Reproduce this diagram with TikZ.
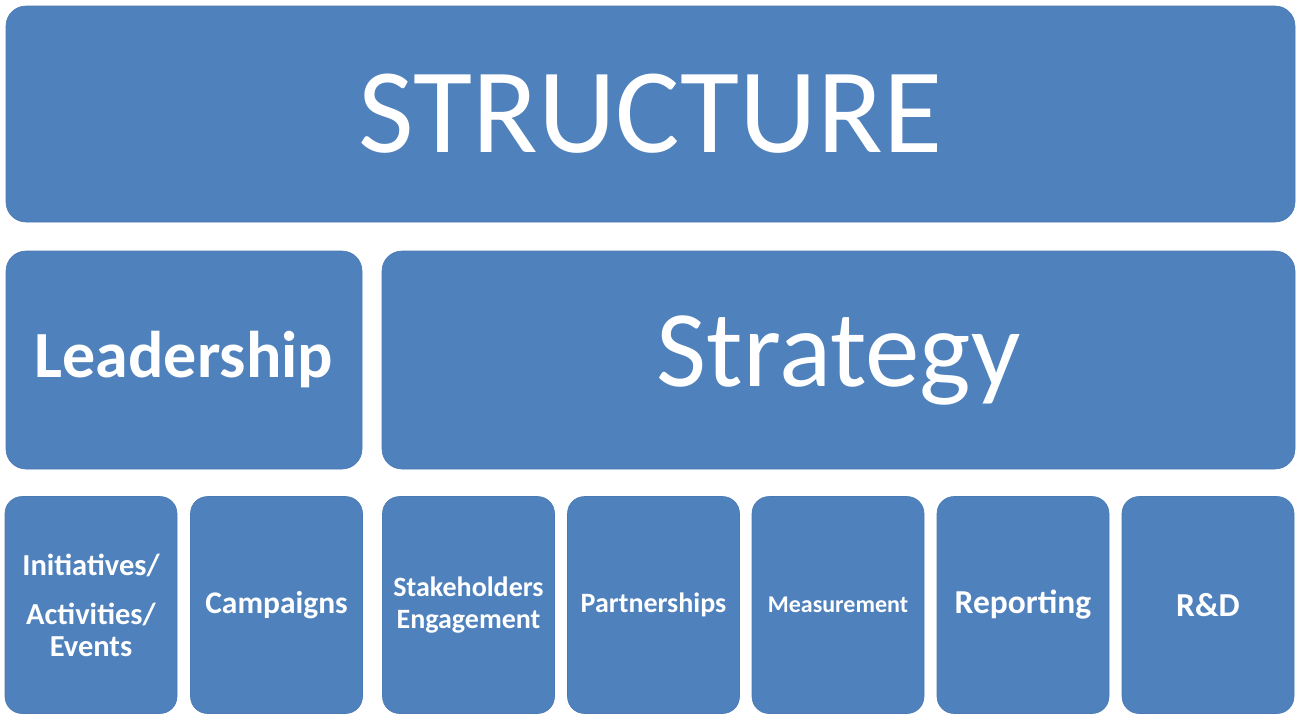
\documentclass[tikz,border=0pt]{standalone}
\usepackage{fontspec}
\setmainfont{Carlito}
\definecolor{boxblue}{HTML}{4F81BD}
\definecolor{boxedge}{HTML}{4A7AB3}
\begin{document}
\begin{tikzpicture}[x=1pt,y=-1pt,
  blk/.style={draw=boxedge, line width=0.6pt, fill=boxblue, rounded corners=20pt, text=white,
    align=center, inner sep=0pt, outer sep=0pt},
  big/.style={blk, minimum width=1289pt, minimum height=216pt},
  mid/.style={blk, minimum height=218pt},
  small/.style={blk, minimum width=172pt, minimum height=217pt, rounded corners=17pt}
]
\useasboundingbox (0,0) rectangle (1298,715);
\node[big, font=\fontsize{121}{134}\selectfont] (structure) at (650.5,114) {STRUCTURE};
\node[mid, minimum width=356pt, font=\bfseries\fontsize{66}{74}\selectfont] (leadership) at (184,360) {Leadership};
\node[mid, minimum width=913pt, font=\fontsize{109}{120}\selectfont] (strategy) at (838.5,360) {\raisebox{-4pt}{Strategy}};
\node[small, font=\bfseries\fontsize{30.5}{37}\selectfont] (initiatives) at (91,605) {Initiatives/\\[12pt]Activities/\\[-5pt]Events};
\node[small, font=\bfseries\fontsize{31.5}{36}\selectfont] (campaigns) at (276.5,605) {Campaigns};
\node[small, font=\bfseries\fontsize{28}{32}\selectfont] (stakeholders) at (468.5,605) {Stakeholders\\Engagement};
\node[small, font=\bfseries\fontsize{28}{32}\selectfont] (partnerships) at (653.5,605) {Partnerships};
\node[small, font=\bfseries\fontsize{24}{28}\selectfont] (measurement) at (838,605) {Measurement};
\node[small, font=\bfseries\fontsize{33.5}{36}\selectfont] (reporting) at (1023,605) {Reporting};
\node[small, font=\bfseries\fontsize{33.5}{36}\selectfont] (rd) at (1208,605) {R\&D};
\end{tikzpicture}
\end{document}
